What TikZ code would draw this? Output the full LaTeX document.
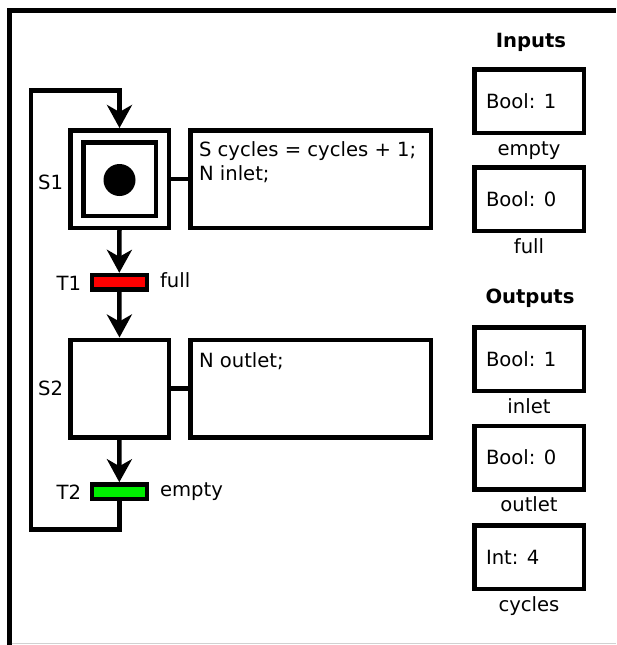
\documentclass[tikz,border=0pt]{standalone}
\usepackage{fontspec}
\setmainfont{DejaVu Sans}
\usetikzlibrary{arrows.meta}
\begin{document}
\begin{tikzpicture}[x=1pt,y=-1pt,line join=miter,
  txt/.style={inner sep=0pt,outer sep=0pt,font=\fontsize{19.6pt}{23pt}\selectfont},
  hdr/.style={inner sep=0pt,outer sep=0pt,font=\fontsize{19.6pt}{23pt}\selectfont\bfseries},
  stepbox/.style={draw,line width=4.5pt,minimum width=98.5pt,minimum height=97.5pt,inner sep=0pt},
  innerbox/.style={draw,line width=4.5pt,minimum width=72.5pt,minimum height=73.5pt,inner sep=0pt},
  actbox/.style={draw,line width=4.5pt,minimum width=240.5pt,minimum height=97.5pt,inner sep=0pt},
  transbar/.style={draw,line width=4.5pt,minimum width=55pt,minimum height=14.5pt,inner sep=0pt},
  varbox/.style={draw,line width=4.5pt,minimum width=109.5pt,minimum height=63.5pt,inner sep=0pt},
  flow/.style={line width=4.5pt,-{Stealth[length=23pt,width=25pt,inset=7pt]}},
  link/.style={line width=4.5pt}]
\useasboundingbox (0,0) rectangle (616,645);
% frame
\draw[line width=4.5pt] (9.5,645) -- (9.5,10.5) -- (616,10.5);
\draw[line width=1.5pt,black!18] (11.5,643.5) -- (616,643.5);

% steps
\node[stepbox] (S1) at (119.5,179) {};
\node[innerbox] (S1i) at (119.5,179) {};
\node[circle,fill=black,minimum size=32pt,inner sep=0pt] (tok) at (119.5,180) {};
\node[stepbox] (S2) at (119.5,388.5) {};

% actions
\node[actbox] (A1) at (310.5,179) {};
\node[actbox] (A2) at (310.5,388.5) {};
\node[txt,anchor=base west] (A1a) at (199,156) {S cycles = cycles + 1;};
\node[txt,anchor=base west] (A1b) at (199,180) {N inlet;};
\node[txt,anchor=base west] (A2a) at (199,367) {N outlet;};
\draw[link] (S1.east) -- (A1.west);
\draw[link] (S2.east) -- (A2.west);

% transitions
\node[transbar,fill={rgb,255:red,255;green,0;blue,0}] (T1) at (119.3,282.3) {};
\node[transbar,fill={rgb,255:red,0;green,238;blue,0}] (T2) at (119.3,491.7) {};

% labels
\node[txt,anchor=base east] (lS1) at (63,189) {S1};
\node[txt,anchor=base east] (lS2) at (63,395) {S2};
\node[txt,anchor=base east] (lT1) at (81,290.5) {T1};
\node[txt,anchor=base west] (cT1) at (160,287.5) {full};
\node[txt,anchor=base east] (lT2) at (81,499.5) {T2};
\node[txt,anchor=base west] (cT2) at (160,496) {empty};

% flow
\draw[flow] (S1.south) -- (T1.north);
\draw[flow] (T1.south) -- (S2.north);
\draw[flow] (S2.south) -- (T2.north);
\coordinate (lb) at (31,529.5);
\coordinate (lt) at (31,90.5);
\draw[flow] (T2.south) -- (T2.south |- lb) -- (lb) -- (lt) -- (lt -| S1.north) -- (S1.north);

% variables
\node[hdr,anchor=base] (hin) at (531,47) {Inputs};
\node[varbox] (v1) at (529,101) {};
\node[txt,anchor=west] (v1t) at (486,101) {Bool: 1};
\node[txt,anchor=base] (v1l) at (529,155) {empty};
\node[varbox] (v2) at (529,199) {};
\node[txt,anchor=west] (v2t) at (486,199) {Bool: 0};
\node[txt,anchor=base] (v2l) at (529,253) {full};

\node[hdr,anchor=base] (hout) at (530,303) {Outputs};
\node[varbox] (v3) at (529,359) {};
\node[txt,anchor=west] (v3t) at (486,359) {Bool: 1};
\node[txt,anchor=base] (v3l) at (529,413) {inlet};
\node[varbox] (v4) at (529,457.5) {};
\node[txt,anchor=west] (v4t) at (486,457.5) {Bool: 0};
\node[txt,anchor=base] (v4l) at (529,511.5) {outlet};
\node[varbox] (v5) at (529,557) {};
\node[txt,anchor=west] (v5t) at (486,557) {Int: 4};
\node[txt,anchor=base] (v5l) at (529,611) {cycles};
\end{tikzpicture}
\end{document}
